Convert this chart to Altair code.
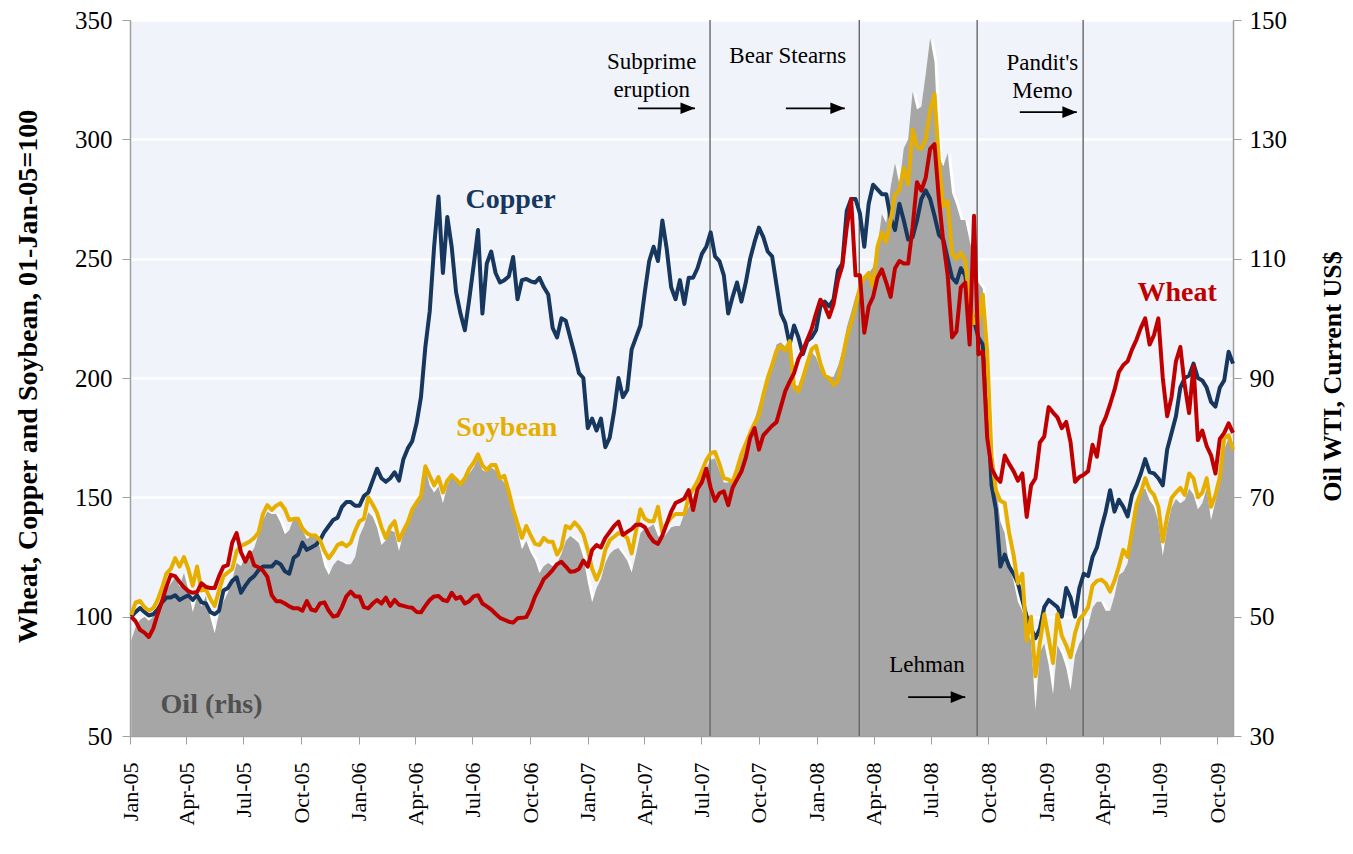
import altair as alt
import pandas as pd

# weekly observations (Mondays), Jan-2005 .. Oct-2009
dates = pd.date_range("2005-01-03", periods=252, freq="7D")

copper = [
    100, 102, 103.6, 102, 100.5, 101, 103, 106, 108, 108,
    109, 107, 108, 109, 107, 109, 106, 105.5, 102, 101,
    102.5, 111, 112, 115, 116.5, 110, 113, 115.5, 117, 119.5,
    121, 121, 121, 123, 122, 119, 118, 124.6, 126, 131,
    128, 129, 130, 132, 135.5, 138, 140.5, 141.5, 146, 148,
    148, 146.5, 146.5, 150.5, 152, 157, 162, 158, 156.5, 158,
    160.5, 157, 166, 170.5, 173.5, 181, 192, 213, 228, 255,
    276, 244, 267.5, 255, 236, 227, 220, 233, 247, 262,
    227, 248, 253, 244, 240, 241, 242.5, 250.7, 233, 241,
    241.5, 240.5, 240, 242, 238, 235, 221, 217, 225, 224,
    217, 210, 202, 200, 179, 183, 178, 183, 171, 175,
    186, 200, 192, 195, 212, 217, 222, 236, 249, 255,
    249, 266, 254, 238, 233, 241, 231, 242, 242, 246,
    252, 255, 261, 251, 249, 243, 227, 234, 240, 232,
    240, 250, 257, 263, 259, 253, 251, 239, 227, 223,
    214, 222, 217, 210, 215.5, 217, 220, 230, 232, 230,
    233, 245, 248, 270, 275, 275, 269, 255, 273, 281,
    279, 277, 277, 267, 262, 273, 266, 258, 259, 266,
    275, 278.6, 275, 268, 260, 258, 250, 242, 240, 246,
    243, 230, 224, 217, 214, 190, 155, 145, 121, 126,
    121, 118, 114, 107, 100, 95, 91, 95, 104, 107,
    105.5, 104, 100, 112, 108, 100, 112, 118, 117, 125,
    129, 137, 144, 153, 144, 149, 146, 142, 151, 155,
    160, 166, 160.6, 160, 158, 155, 170, 177, 184, 196,
    200, 201, 206, 200, 199, 196, 190, 188, 196, 199,
    211, 206,
]

soybean = [
    100.7, 106, 106.6, 104, 102.5, 103.5, 107, 112, 118, 120,
    124.5, 121, 125, 120, 113, 121, 111, 111.5, 107.5, 104.5,
    111, 117, 118.5, 120, 127.5, 129.6, 130.5, 131.5, 133, 135.3,
    143, 146.7, 144.7, 146.5, 147.5, 145, 140.5, 141, 141, 137,
    135, 134, 134, 132, 127.5, 124.5, 127, 130, 131, 129.5,
    131, 136, 140, 141, 150, 147, 143.5, 137.5, 133, 137.7,
    140, 132, 136, 139.5, 145, 147.8, 150.5, 163, 159, 155,
    158.5, 152, 157, 159.3, 157.5, 155.5, 158, 162, 164.5, 168,
    163.4, 161.4, 163.5, 163.5, 158, 159, 152.5, 145, 139, 133,
    138, 134, 130.5, 130, 133, 131.4, 131.4, 126, 129, 138,
    137, 139.5, 137.5, 134.5, 128, 120, 115.5, 120, 128, 132,
    133.5, 135, 134.5, 133, 126.5, 136, 145, 141, 140, 140,
    146, 135.5, 139, 141.5, 143, 143, 143, 150, 153.5, 156.7,
    161, 165.5, 168.5, 169, 164, 158, 157.5, 156.4, 161.8, 168,
    172.5, 177, 181, 184.5, 193, 200, 205.5, 211.5, 213.5, 211.5,
    215.5, 196, 194.5, 200, 206, 212, 213.5, 206, 201, 200,
    197, 199, 208, 217, 223, 230, 238, 242, 244, 238,
    255, 261, 257, 266, 277, 278.7, 288, 281, 304, 297,
    296, 300, 312, 319, 291, 272, 274, 252, 250, 252.5,
    249, 232, 223, 223, 235, 211, 167, 153, 148.5, 147.6,
    135, 126, 114, 118, 90, 100, 75, 89, 101, 91,
    80.6, 101, 92, 88, 83, 93, 99, 101, 104, 113,
    115, 115.5, 114, 110.5, 115, 121, 128, 125, 136, 147,
    152, 158, 153, 151, 146, 131.5, 142, 149.7, 152, 154,
    151, 160, 158, 150, 152, 158, 146, 151, 158.5, 175,
    176, 170,
]

wheat = [
    100, 98, 94.5, 93.3, 91.5, 95, 101, 106.5, 112.5, 117.5,
    117, 114.5, 112.3, 110.7, 110, 110.3, 114, 112.5, 112, 112,
    117, 121, 121.6, 131, 135, 127, 123, 127, 121.5, 120.7,
    119.3, 116.7, 109, 106.5, 106.5, 105.5, 104.3, 103.5, 103.5, 102.5,
    106.5, 103, 102.5, 105.5, 106, 102.5, 100, 100.5, 104, 108.5,
    110.5, 108.5, 108.5, 104, 103.5, 105.5, 107, 105.5, 108, 104.5,
    107, 105, 104.5, 104, 103.7, 102, 101.8, 104.5, 107, 108.5,
    108.7, 107, 106.5, 110, 107.5, 108.3, 105.5, 106.5, 108.5, 109,
    105.5, 104.3, 103, 101.2, 99.5, 98.7, 97.9, 97.5, 99.3, 99.5,
    99.8, 103.5, 108.5, 112, 115.8, 117.5, 119.5, 122, 123, 121,
    118.8, 119, 120, 123.5, 121, 128, 130, 129, 133, 135.5,
    138, 139.8, 134.3, 135.5, 136.7, 138.5, 138.6, 137.5, 134, 131.5,
    130.5, 134, 139, 144, 147.6, 148.5, 149.5, 153, 144.7, 153.5,
    156.4, 162, 154, 148.5, 151.7, 152.5, 146.7, 154, 157.5, 160.8,
    166.5, 175, 179, 170, 176, 178, 180, 181.5, 188, 194.5,
    198.5, 202, 208, 211.5, 216, 220.5, 227, 232.8, 230, 225.5,
    231, 241, 247, 263, 275, 243, 243, 219, 230, 234,
    242, 245.5, 240, 234, 246, 249, 248, 248, 263, 282,
    278.5, 284, 296, 298, 275, 257, 243, 217, 219.5, 238,
    240, 214, 268, 210, 211, 175, 162, 158.5, 156.5, 167.5,
    164, 161, 157, 160, 141.8, 155, 158, 173, 175.5, 187.8,
    185.5, 183.5, 179, 181.6, 173, 156.5, 158.5, 159.5, 161, 172,
    167, 179.5, 183.5, 189, 195, 202.5, 205.4, 207, 212, 216,
    221, 225, 214, 218, 225, 200, 184, 192, 207, 213,
    197, 185.3, 205, 174, 178, 171.5, 167.6, 160, 174.5, 177,
    181, 177,
]

oil = [
    46, 48.3, 49.5, 50, 49.3, 50, 51.5, 53.3, 54.5, 55.5,
    56.7, 55, 57.3, 54.6, 50.8, 53.3, 51.7, 53.5, 50, 47.2,
    50.6, 52.5, 54, 56.2, 59, 58.5, 60, 60.3, 61.5, 63.8,
    66.2, 67.6, 67.2, 67.2, 65.8, 63.8, 64.5, 66.5, 66.2, 64.5,
    63, 63.5, 63.9, 61.5, 58.5, 57, 58.6, 59.5, 59.2, 58.8,
    58.8, 60, 63.5, 65.2, 67.5, 66.8, 65, 62, 62.8, 64.5,
    64.2, 61, 64, 66.2, 67.5, 69, 70, 75, 72, 70.8,
    71.8, 69, 72, 73.5, 72.8, 72.3, 73, 74, 75, 76.5,
    74.6, 74.2, 75, 74.5, 73.3, 72.5, 70.5, 67.5, 64.5, 61.3,
    62.7, 60.8, 59.5, 57.3, 58.5, 59, 58.5, 59, 60.5, 62.7,
    63.5, 63, 62.3, 60, 55.8, 52.4, 54.8, 56.3, 59, 60.5,
    61.2, 61.5, 60.5, 59.4, 57.4, 60.5, 64, 64.8, 65, 65.5,
    63.5, 63, 64, 65, 65.2, 65.2, 67.3, 68.3, 70, 71.8,
    73.5, 74.8, 76.3, 76.5, 74.5, 72.5, 72.5, 73.2, 74.5, 76.3,
    78.6, 80.8, 83, 85.5, 88, 90.2, 92.6, 95.6, 96, 95.3,
    96.5, 89, 88.6, 90.8, 93, 94.3, 93.5, 91.5, 90.4, 90.2,
    90.2, 92, 94.5, 98.5, 101, 103.7, 105.5, 107, 107.5, 108.6,
    112, 117.5, 116, 122, 126, 122.5, 128.5, 130, 138, 135,
    135.5, 141, 147, 143, 127, 125.5, 127.7, 121, 119, 116.5,
    116.5, 113, 110, 106, 105, 90, 79, 72, 66, 64,
    58.5, 56, 52.5, 51, 47.8, 46, 34.4, 44, 45.5, 42,
    37, 45.2, 43.8, 41.5, 37.7, 43.5, 45.5, 46.7, 48.5, 51.5,
    52.5, 52.5, 51, 51, 53.5, 57, 57.5, 59, 64.5, 67.5,
    71, 71.5, 69.5, 68.5, 66, 60.2, 65, 68.3, 69.7, 69,
    69.5, 71.5, 70.5, 68, 69, 71.5, 66.2, 69.3, 72.2, 78,
    80, 78.4,
]

series_names = ["Copper", "Soybean", "Wheat"]
series_colors = ["#17375E", "#E6AF00", "#C00000"]

event_dates = ["2007-07-15", "2008-03-09", "2008-09-13", "2009-03-01"]

note_dates = ["2007-04-13", "2007-11-16", "2008-12-26", "2008-06-25"]
note_values = [332.6, 334.9, 331.8, 79.7]
note_texts = ["Subprime\neruption", "Bear Stearns", "Pandit's\nMemo", "Lehman"]

arrow_start = ["2007-03-22", "2007-11-13", "2008-11-20", "2008-05-26"]
arrow_end = ["2007-06-21", "2008-02-15", "2009-02-19", "2008-08-25"]
arrow_values = [313, 313, 311.4, 66.3]

label_dates = ["2006-08-31", "2006-08-25", "2009-07-29", "2005-05-11"]
label_values = [274.5, 179, 235.6, 63]
label_texts = ["Copper", "Soybean", "Wheat", "Oil (rhs)"]
label_colors = ["#17375E", "#E6AF00", "#C00000", "#505050"]

# ---------------------------------------------------------------- tables
lines_df = pd.DataFrame({
    "date": list(dates) * 3,
    "series": sum([[n] * len(dates) for n in series_names], []),
    "value": copper + soybean + wheat,
})
oil_df = pd.DataFrame({"date": dates, "oil": oil})
events_df = pd.DataFrame({"date": pd.to_datetime(event_dates)})
notes_df = pd.DataFrame({"date": pd.to_datetime(note_dates), "value": note_values, "text": note_texts})
arrows_df = pd.DataFrame({"start": pd.to_datetime(arrow_start), "end": pd.to_datetime(arrow_end), "value": arrow_values})

FONT = "Liberation Serif"
W, H = 1103, 716

x_scale = alt.Scale(domain=[alt.DateTime(year=2005, month=1, date=1),
                            alt.DateTime(year=2009, month=10, date=26)], nice=False)
x_values = [alt.DateTime(year=y, month=m, date=1) for y in range(2005, 2010) for m in (1, 4, 7, 10)]
x_axis = alt.Axis(values=x_values, format="%b-%y", labelAngle=-90, title=None, grid=False,
                  tickSize=8, labelPadding=18, labelFontSize=22, labelFont=FONT,
                  domainColor="#A0A0A0", tickColor="#A0A0A0", labelColor="black", domainWidth=1.5)


def X(field):
    return alt.X(f"{field}:T", scale=x_scale, axis=x_axis)


left_scale = alt.Scale(domain=[50, 350], nice=False, zero=False)
right_scale = alt.Scale(domain=[30, 150], nice=False, zero=False)

left_axis = alt.Axis(orient="left", values=[50, 100, 150, 200, 250, 300, 350],
                     title="Wheat, Copper and Soybean, 01-Jan-05=100",
                     titleFont=FONT, titleFontSize=28, titleFontWeight="bold", titleColor="black",
                     titleX=-102, titleY=356, titleAngle=-90, titleAlign="center", titleBaseline="middle",
                     labelFont=FONT, labelFontSize=25, labelColor="black", labelPadding=10,
                     tickSize=8, grid=True, gridColor="white", gridWidth=2.5,
                     domainColor="#A0A0A0", tickColor="#A0A0A0", domainWidth=1.5)
right_axis = alt.Axis(orient="right", values=[30, 50, 70, 90, 110, 130, 150],
                      title="Oil WTI, Current US$",
                      titleFont=FONT, titleFontSize=26, titleFontWeight="bold", titleColor="black",
                      titleX=99, titleY=356, titleAngle=-90, titleAlign="center", titleBaseline="middle",
                      labelFont=FONT, labelFontSize=25, labelColor="black", labelPadding=8,
                      tickSize=8, grid=False,
                      domainColor="#A0A0A0", tickColor="#A0A0A0", domainWidth=1.5)

shadow = alt.Chart(oil_df).mark_area(color="white", xOffset=3, clip=True).encode(
    x=X("date"),
    y=alt.Y("oil:Q", scale=right_scale, axis=None),
    y2=alt.datum(30),
)

oil_area = alt.Chart(oil_df).mark_area(color="#A6A6A6").encode(
    x=X("date"),
    y=alt.Y("oil:Q", scale=right_scale, axis=right_axis),
    y2=alt.datum(30),
)

events = alt.Chart(events_df).mark_rule(color="#666666", strokeWidth=1.4).encode(x=X("date"))

lines = alt.Chart(lines_df).mark_line(strokeWidth=4, strokeJoin="round").encode(
    x=X("date"),
    y=alt.Y("value:Q", scale=left_scale, axis=left_axis),
    color=alt.Color("series:N", scale=alt.Scale(domain=series_names, range=series_colors), legend=None),
)

notes = alt.Chart(notes_df).mark_text(font=FONT, fontSize=23, color="black", align="center",
                                      baseline="middle", lineBreak="\n", lineHeight=28).encode(
    x=X("date"),
    y=alt.Y("value:Q", scale=left_scale, axis=None),
    text="text:N",
)

arrow_lines = alt.Chart(arrows_df).mark_rule(color="black", strokeWidth=1.8).encode(
    x=X("start"),
    x2="end:T",
    y=alt.Y("value:Q", scale=left_scale, axis=None),
)

arrow_heads = alt.Chart(arrows_df).mark_point(shape="M0,0L-2,-0.8L-2,0.8Z", size=210, filled=True,
                                              color="black", opacity=1).encode(
    x=X("end"),
    y=alt.Y("value:Q", scale=left_scale, axis=None),
)

label_layers = []
for d, v, t, c in zip(label_dates, label_values, label_texts, label_colors):
    ldf = pd.DataFrame({"date": [pd.Timestamp(d)], "value": [v], "text": [t]})
    label_layers.append(
        alt.Chart(ldf).mark_text(font=FONT, fontSize=28, fontWeight="bold", color=c,
                                 align="center", baseline="middle").encode(
            x=X("date"),
            y=alt.Y("value:Q", scale=left_scale, axis=None),
            text="text:N",
        )
    )

chart = alt.layer(
    shadow, oil_area, events, lines, notes, arrow_lines, arrow_heads, *label_layers
).resolve_scale(
    y="independent"
).properties(
    width=W, height=H,
    autosize=alt.AutoSizeParams(type="none"),
    padding={"left": 122, "top": 12, "right": 112, "bottom": 100},
).configure_view(
    fill="#F0F4FA", strokeWidth=0,
)

chart.save("out.html", embed_options={"renderer": "svg", "actions": False})
